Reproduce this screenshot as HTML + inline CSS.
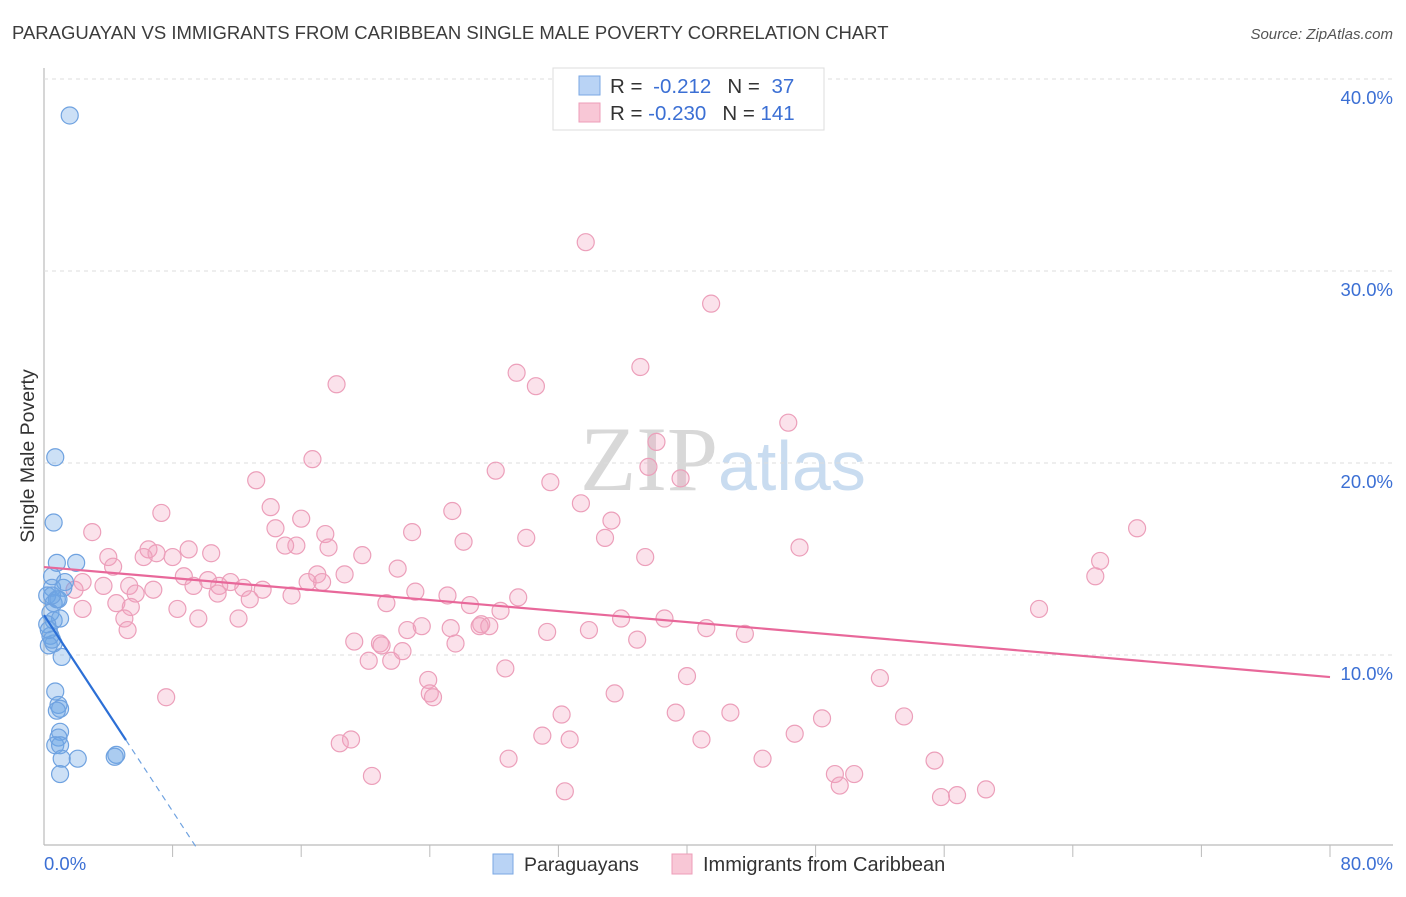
<!DOCTYPE html>
<html><head><meta charset="utf-8"><style>
body{margin:0;background:#fff;font-family:"Liberation Sans",sans-serif}
svg text{font-family:"Liberation Sans",sans-serif}
</style></head><body>
<svg width="1406" height="892" viewBox="0 0 1406 892" id="chart">
<text x="12" y="39" font-size="18.5" fill="#3c3c3c">PARAGUAYAN VS IMMIGRANTS FROM CARIBBEAN SINGLE MALE POVERTY CORRELATION CHART</text>
<text x="1393" y="39" font-size="15" fill="#555" font-style="italic" text-anchor="end">Source: ZipAtlas.com</text>
<text x="718" y="490" font-size="92" fill="#d8d8d8" text-anchor="end" style="font-family:'Liberation Serif',serif">ZIP</text>
<text x="718" y="490" font-size="70" fill="#c9dcf0">atlas</text>
<text transform="translate(34,456) rotate(-90)" font-size="19.5" fill="#333" text-anchor="middle">Single Male Poverty</text>
<g id="grid"></g><g id="pts"></g><g id="lines"></g>
<g>
<rect x="553" y="68" width="271" height="62" fill="#fff" stroke="#ddd"/>
<rect x="579" y="76" width="21" height="19" fill="#b9d3f5" stroke="#7aa7e3"/>
<rect x="579" y="103" width="21" height="19" fill="#f8c7d6" stroke="#ee9db8"/>
<text x="610" y="93" font-size="20.5" fill="#333">R = <tspan fill="#3b6fd4" dx="5">-0.212</tspan><tspan dx="16" fill="#333">N = </tspan><tspan fill="#3b6fd4" dx="6">37</tspan></text>
<text x="610" y="120" font-size="20.5" fill="#333">R = <tspan fill="#3b6fd4">-0.230</tspan><tspan dx="16" fill="#333">N = </tspan><tspan fill="#3b6fd4">141</tspan></text>
</g>
<g>
<rect x="493" y="854" width="20" height="20" fill="#b9d3f5" stroke="#7aa7e3"/>
<text x="524" y="871" font-size="19.5" fill="#333">Paraguayans</text>
<rect x="672" y="854" width="20" height="20" fill="#f8c7d6" stroke="#ee9db8"/>
<text x="703" y="871" font-size="20" fill="#333">Immigrants from Caribbean</text>
</g>
</svg>
<script>
const yTicks=[10,20,30,40];
const yTickLabels=["10.0%","20.0%","30.0%","40.0%"];
const xTickCount=10;
const xLabels=["0.0%","80.0%"];
const blueX=[1.6,0.7,0.6,0.8,2.0,0.5,1.3,0.5,0.2,0.8,0.6,1.2,0.4,0.6,1.0,0.2,0.4,0.6,0.3,1.1,0.7,0.9,1.0,0.8,1.0,0.9,0.7,1.0,1.1,2.1,4.5,4.4,1.0,0.9,0.5,0.3,0.5];
const blueY=[38.1,20.3,16.9,14.8,14.8,14.1,13.8,13.5,13.1,12.9,12.7,13.5,12.2,11.8,11.9,11.6,11.0,10.6,10.5,9.9,8.1,7.4,7.2,7.1,6.0,5.7,5.3,5.3,4.6,4.6,4.8,4.7,3.8,12.9,13.1,11.3,10.8];
const pinkX=[33.7,41.5,37.1,18.2,29.4,30.6,46.3,38.1,16.7,37.6,28.1,39.6,31.5,13.2,33.4,14.1,25.4,7.3,16.0,35.3,3.0,22.9,14.4,17.5,68.0,30.0,26.1,34.9,47.0,15.7,15.0,17.7,6.5,9.0,10.4,4.0,7.0,6.2,8.0,19.8,37.4,65.7,65.4,22.0,4.3,17.0,18.7,8.7,10.2,11.6,2.4,3.7,5.3,9.3,10.9,12.4,13.6,16.4,17.3,1.9,5.7,6.8,15.4,23.1,25.1,12.8,10.8,4.5,21.3,29.5,26.5,2.4,8.3,9.6,5.4,12.1,5.0,28.4,61.9,35.9,38.6,27.2,27.7,25.3,31.3,33.9,41.2,43.6,27.1,5.2,22.6,23.5,19.3,36.9,20.9,25.6,20.2,21.6,22.3,21.0,28.7,40.0,23.9,52.0,7.6,24.0,24.2,35.5,32.2,39.3,42.7,53.5,48.4,31.0,32.7,40.9,46.7,19.1,18.4,28.9,44.7,55.4,20.4,49.2,50.4,49.5,32.4,55.8,56.8,58.6];
const pinkY=[31.5,28.3,25.0,24.1,24.7,24.0,22.1,21.1,20.2,19.8,19.6,19.2,19.0,19.1,17.9,17.7,17.5,17.4,17.1,17.0,16.4,16.4,16.6,16.3,16.6,16.1,15.9,16.1,15.6,15.7,15.7,15.6,15.5,15.5,15.3,15.1,15.3,15.1,15.1,15.2,15.1,14.9,14.1,14.5,14.6,14.2,14.2,14.1,13.9,13.8,13.8,13.6,13.6,13.6,13.6,13.5,13.4,13.8,13.8,13.4,13.2,13.4,13.1,13.3,13.1,12.9,13.2,12.7,12.7,13.0,12.6,12.4,12.4,11.9,12.5,11.9,11.9,12.3,12.4,11.9,11.9,11.6,11.5,11.4,11.2,11.3,11.4,11.1,11.5,11.3,11.3,11.5,10.7,10.8,10.6,10.6,9.7,9.7,10.2,10.5,9.3,8.9,8.7,8.8,7.8,8.0,7.8,8.0,6.9,7.0,7.0,6.8,6.7,5.8,5.6,5.6,5.9,5.6,5.4,4.6,4.6,4.5,3.7,3.8,3.8,3.2,2.9,2.6,2.7,3.0];
const blueTrend=[12.08,-1.277];
const blueTrendEnd=5.1;
const pinkTrend=[14.58,-0.0716];
const X0=44,X1=1330,Y0=847,PXY=19.2;
const sx=v=>X0+v*(X1-X0)/80, sy=v=>Y0-v*PXY;
const NS="http://www.w3.org/2000/svg";
function mk(t,a,p){const e=document.createElementNS(NS,t);for(const k in a)e.setAttribute(k,a[k]);p.appendChild(e);return e;}
const grid=document.getElementById('grid');
mk('line',{x1:44,y1:68,x2:44,y2:845,stroke:'#bbb','stroke-width':1.2},grid);
mk('line',{x1:44,y1:845,x2:1393,y2:845,stroke:'#bbb','stroke-width':1.2},grid);
yTicks.forEach((v,i)=>{
 const l=mk('line',{x1:44,y1:sy(v),x2:1393,y2:sy(v),stroke:'#ddd','stroke-dasharray':'4,4'},grid);
 
 
 const t=mk('text',{x:1393,y:sy(v)+25,'font-size':18.5,fill:'#3b6fd4','text-anchor':'end'},grid);
 t.textContent=yTickLabels[i];
 
 
});
for(let i=1;i<=xTickCount;i++){
 const l=mk('line',{x1:sx(i*8),y1:845,x2:sx(i*8),y2:857,stroke:'#bbb'},grid);
 
 
}
const xl0=mk('text',{x:44,y:870,'font-size':18.5,fill:'#3b6fd4'},grid);xl0.textContent=xLabels[0];


const xl1=mk('text',{x:1393,y:870,'font-size':18.5,fill:'#3b6fd4','text-anchor':'end'},grid);xl1.textContent=xLabels[1];


const pts=document.getElementById('pts');
pinkX.forEach((x,i)=>{
 const c=mk('circle',{cx:sx(x),cy:sy(pinkY[i]),r:8.5,fill:'rgba(242,160,188,0.3)',stroke:'#ec9fba','stroke-width':1.2},pts);
 
 
});
blueX.forEach((x,i)=>{
 const c=mk('circle',{cx:sx(x),cy:sy(blueY[i]),r:8.5,fill:'rgba(110,165,230,0.35)',stroke:'#6fa2e0','stroke-width':1.2},pts);
 
 
});
const lines=document.getElementById('lines');
const pl=mk('line',{x1:sx(0),y1:sy(pinkTrend[0]),x2:sx(80),y2:sy(pinkTrend[0]+80*pinkTrend[1]),stroke:'#e8689a','stroke-width':2.2},lines);


const bEnd=blueTrendEnd, bZero=-blueTrend[0]/blueTrend[1];
const bl=mk('line',{x1:sx(0),y1:sy(blueTrend[0]),x2:sx(bEnd),y2:sy(blueTrend[0]+bEnd*blueTrend[1]),stroke:'#2c6fd6','stroke-width':2.2},lines);


const bd=mk('line',{x1:sx(bEnd),y1:sy(blueTrend[0]+bEnd*blueTrend[1]),x2:sx(bZero),y2:sy(0),stroke:'#6fa2e0','stroke-width':1.2,'stroke-dasharray':'6,5'},lines);


</script>
</body></html>
